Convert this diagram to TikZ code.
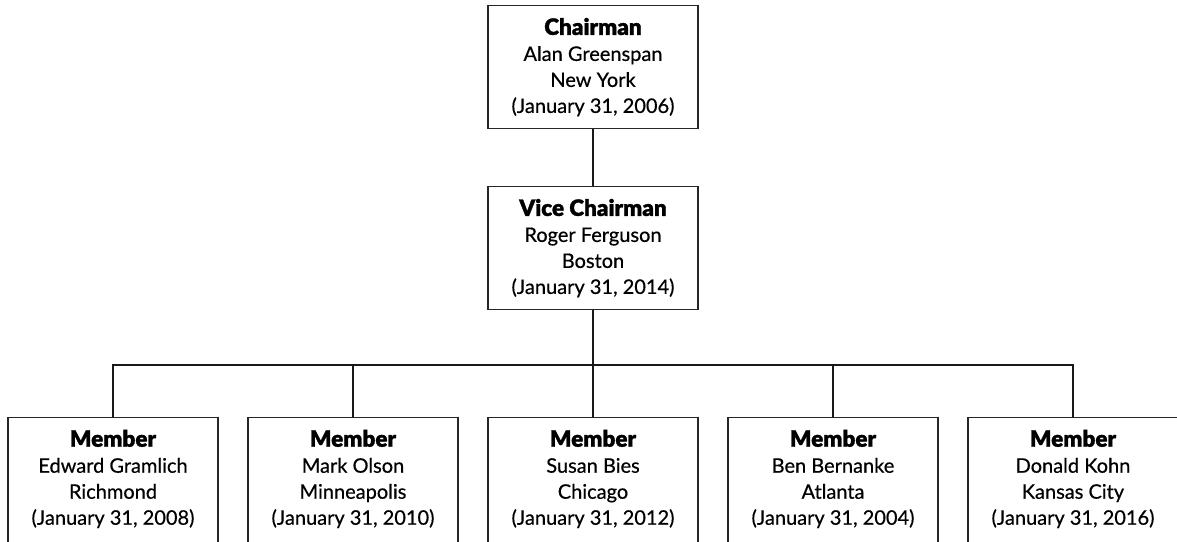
\documentclass[tikz,border=0pt]{standalone}
\usepackage{fontspec}
\setmainfont{Lato}[FakeBold=0.5]
\newfontfamily\heavy{Lato Black}[FakeBold=1.2]
\newcommand{\hd}[1]{{\fontsize{22.5}{26}\heavy #1}}
\begin{document}
\begin{tikzpicture}[x=1pt,y=-1pt,
  box/.style={draw=black!85,line width=1.3pt,minimum width=210pt,minimum height=123pt,
    inner sep=0pt,anchor=north},
  txt/.style={align=center,inner sep=0pt,font=\fontsize{20}{26}\selectfont},
  link/.style={draw=black!90,line width=2pt}]
\clip (0,0) rectangle (1177,541);
\fill[white] (0,0) rectangle (1177,541);
\node[box] (ch) at (593,5) {};
\node[txt] (cht) at (ch.center) {\hd{Chairman}\\Alan Greenspan\\New York\\(January 31, 2006)};
\node[box] (vc) at (593,186) {};
\node[txt] (vct) at (vc.center) {\hd{Vice Chairman}\\Roger Ferguson\\Boston\\(January 31, 2014)};
\foreach \i/\x/\n/\c/\d in {1/113/Edward Gramlich/Richmond/2008,2/353/Mark Olson/Minneapolis/2010,3/593/Susan Bies/Chicago/2012,4/833/Ben Bernanke/Atlanta/2004,5/1073/Donald Kohn/Kansas City/2016}{
  \node[box,minimum height=140pt] (m\i) at (\x,417) {};
  \node[txt] (m\i t) at ([yshift=-62pt]m\i.north) {\hd{Member}\\\n\\\c\\(January 31, \d)};
}
\coordinate (bus) at (593,365);
\draw[link] (ch.south) -- (vc.north);
\draw[link] (vc.south) -- (bus);
\draw[link] (m1.north) |- (bus);
\draw[link] (m5.north) |- (bus);
\draw[link] (m2.north) -- (m2.north |- bus);
\draw[link] (m3.north) -- (bus);
\draw[link] (m4.north) -- (m4.north |- bus);
\end{tikzpicture}
\end{document}
